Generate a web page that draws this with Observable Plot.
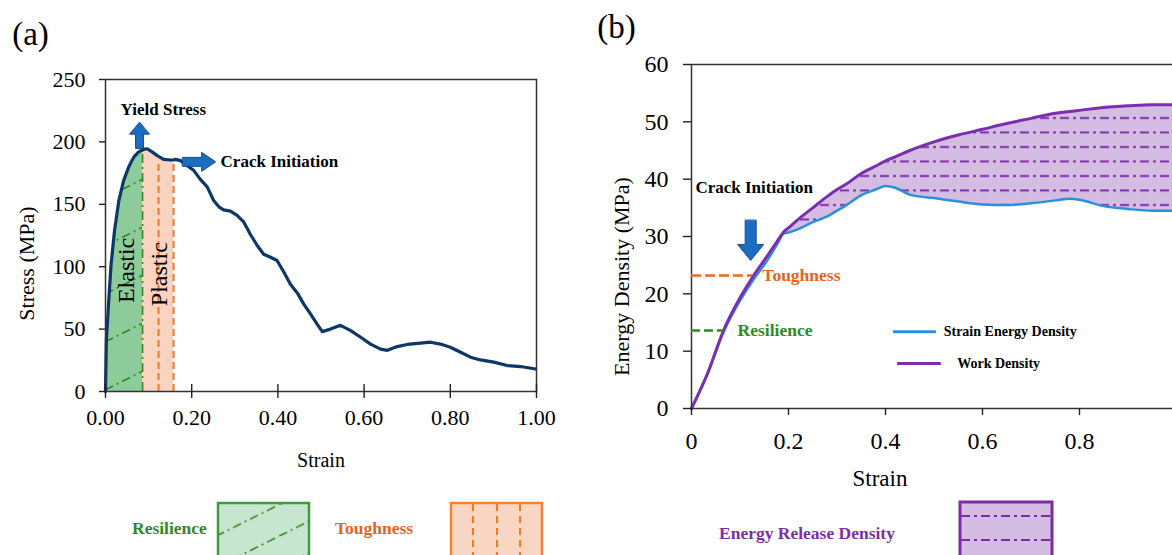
<!DOCTYPE html>
<html><head><meta charset="utf-8">
<script src="https://cdn.jsdelivr.net/npm/d3@7"></script>
<script src="https://cdn.jsdelivr.net/npm/@observablehq/plot@0.6"></script>
<style>
html,body{margin:0;padding:0;background:#fff;}
#wrap{position:relative;width:1172px;height:555px;overflow:hidden;font-family:"Liberation Serif",serif;background:#fff;}
#wrap > svg{position:absolute;}
.lg{position:absolute;font-weight:bold;font-size:17.5px;line-height:1;white-space:nowrap;}
</style></head><body>
<div id="wrap">
<svg width="0" height="0" style="left:0;top:0">
  <defs>
    <pattern id="elasticPat" patternUnits="userSpaceOnUse" x="105" y="342" width="96" height="48">
      <rect width="96" height="48" fill="#8ecb9a"/>
      <line x1="0" y1="48" x2="96" y2="0" stroke="#2e8b22" stroke-width="1.6" stroke-dasharray="9 4 2 4"/>
    </pattern>
    <pattern id="erdPat" patternUnits="userSpaceOnUse" x="0" y="111" width="20" height="14.5">
      <rect width="20" height="14.5" fill="#d5bce2"/>
      <line x1="0" y1="7" x2="20" y2="7" stroke="#7a2aa8" stroke-width="1.8" stroke-dasharray="9 4 3 4"/>
    </pattern>
  </defs>
</svg>

<div class="lg" style="left:132px;top:520px;color:#2f8a24">Resilience</div>
<svg style="left:216px;top:501px" width="95" height="60">
  <defs><pattern id="resPat" patternUnits="userSpaceOnUse" x="0" y="3.7" width="63" height="31.5">
    <rect width="63" height="31.5" fill="#c8e5cf"/>
    <line x1="0" y1="31.5" x2="63" y2="0" stroke="#2e8b22" stroke-width="1.6" stroke-dasharray="9 4 2 4"/>
  </pattern></defs>
  <rect x="2" y="2" width="91" height="70" fill="url(#resPat)" stroke="#3d9c3d" stroke-width="2.5"/>
</svg>

<div class="lg" style="left:335px;top:520px;color:#e9631b">Toughness</div>
<svg style="left:449px;top:501px" width="95" height="60">
  <rect x="2" y="2" width="91" height="70" fill="#f9d5c3" stroke="#f5822c" stroke-width="2.5"/>
  <line x1="24" y1="3" x2="24" y2="60" stroke="#f07a22" stroke-width="2" stroke-dasharray="7 5"/>
  <line x1="48" y1="3" x2="48" y2="60" stroke="#f07a22" stroke-width="2" stroke-dasharray="7 5"/>
  <line x1="71" y1="3" x2="71" y2="60" stroke="#f07a22" stroke-width="2" stroke-dasharray="7 5"/>
</svg>

<div class="lg" style="left:719px;top:525px;color:#7c2fa6">Energy Release Density</div>
<svg style="left:958px;top:500px" width="96" height="60">
  <rect x="2" y="2" width="92" height="70" fill="#d5bce2" stroke="#7a2aa3" stroke-width="3"/>
  <line x1="3" y1="16" x2="93" y2="16" stroke="#7a2aa8" stroke-width="2" stroke-dasharray="9 4 3 4"/>
  <line x1="3" y1="40" x2="93" y2="40" stroke="#7a2aa8" stroke-width="2" stroke-dasharray="9 4 3 4"/>
</svg>
</div>

<script>
// ---------- Panel (a) data: stress-strain ----------
const strainA = [0, 0.002, 0.008, 0.013, 0.021, 0.031, 0.042, 0.054, 0.066, 0.077, 0.086, 0.089, 0.097, 0.108, 0.12, 0.135, 0.151, 0.158, 0.162, 0.174, 0.19, 0.205, 0.22, 0.236, 0.251, 0.263, 0.274, 0.29, 0.306, 0.321, 0.336, 0.352, 0.367, 0.383, 0.398, 0.414, 0.429, 0.445, 0.46, 0.476, 0.491, 0.503, 0.522, 0.545, 0.568, 0.592, 0.615, 0.638, 0.654, 0.677, 0.7, 0.731, 0.754, 0.777, 0.8, 0.824, 0.847, 0.87, 0.901, 0.932, 0.963, 0.998];
const stressA = [0, 41, 75.6, 102, 129, 153, 169, 180, 188, 192, 193.5, 194, 194.5, 192, 189, 186, 185.5, 185.5, 186, 185, 181, 177, 170, 164, 153, 148, 145.5, 144.5, 141, 135.7, 126, 117, 110, 107.6, 105, 95.6, 86, 79, 70, 62, 54, 48, 50, 53, 49, 43.5, 38, 34, 33, 36, 37.7, 38.7, 39.5, 38, 35.5, 31.5, 27.5, 25.3, 23.5, 20.8, 20, 18];
const elasticEnd = 0.086;
const plasticEnd = 0.158;
const elasticBoundary = [{strain: 0.086, top: 190}];
const plasticLines = [{strain: 0.123, top: 182}, {strain: 0.158, top: 184}];
const xTicksA = [0, 0.2, 0.4, 0.6, 0.8, 1.0];
const yTicksA = [0, 50, 100, 150, 200, 250];
const textA = [{strain: 0.035, stress: 226, text: "Yield Stress"}, {strain: 0.267, stress: 184, text: "Crack Initiation"}];
const regionA = [{strain: 0.048, stress: 97, text: "Elastic"}, {strain: 0.124, stress: 94, text: "Plastic"}];
const arrowUpA = [{strain: 0.079, stress: 195}];
const arrowRightA = [{strain: 0.179, stress: 184}];

// ---------- Panel (b) data: energy densities ----------
const strainB = [0, 0.033, 0.066, 0.1, 0.128, 0.156, 0.177, 0.19, 0.2, 0.22, 0.25, 0.28, 0.3, 0.32, 0.35, 0.38, 0.4, 0.42, 0.45, 0.5, 0.55, 0.6, 0.65, 0.7, 0.75, 0.78, 0.8, 0.85, 0.9, 0.95, 1.0];
const workB = [0, 6.1, 13.6, 19.3, 23.2, 26.6, 29.2, 30.8, 31.5, 33, 35, 37, 38.2, 39.2, 41, 42.3, 43.2, 43.9, 45, 46.5, 47.7, 48.7, 49.7, 50.6, 51.5, 51.8, 52, 52.5, 52.8, 53, 53];
const sedB = [0, 6, 13.3, 18.8, 22.5, 25.8, 28.7, 30.5, 30.7, 31.3, 32.5, 33.5, 34.5, 35.5, 37.2, 38.2, 38.8, 38.5, 37.3, 36.7, 36.1, 35.6, 35.5, 35.8, 36.3, 36.6, 36.4, 35.3, 34.8, 34.5, 34.5];
const xTicksB = [0, 0.2, 0.4, 0.6, 0.8, 1];
const yTicksB = [0, 10, 20, 30, 40, 50, 60];
const toughnessB = [{energy: 23.2, end: 0.126, labelX: 0.146}];
const resilienceB = [{energy: 13.6, end: 0.066, labelX: 0.095}];
const crackB = [{strain: 0.008, energy: 38.5, text: "Crack Initiation"}];
const arrowDownB = [{strain: 0.122, energy: 32.8}];
const legendB = [
  {energy: 13.4, x1: 0.4165, x2: 0.505, textX: 0.52, text: "Strain Energy Density"},
  {energy: 7.85, x1: 0.425, x2: 0.515, textX: 0.548, text: "Work Density"}
];

const dataA = strainA.map((s, i) => ({strain: s, stress: stressA[i]}));
const elastic = dataA.filter(d => d.strain <= elasticEnd);
const plastic = dataA.filter(d => d.strain >= elasticEnd && d.strain <= plasticEnd);
const dataB = strainB.map((s, i) => ({strain: s, wd: workB[i], sed: sedB[i]}));

const serif = '"Liberation Serif", "Times New Roman", serif';
const arrowFill = "#1c6dc1", arrowStroke = "#164e8a";
function blockArrow(shaft, head, headLen) {
  return {
    draw(ctx, l) {
      const s = shaft / 2, h = head / 2, b = l - headLen;
      ctx.moveTo(-s, 0); ctx.lineTo(-s, -b); ctx.lineTo(-h, -b); ctx.lineTo(0, -l);
      ctx.lineTo(h, -b); ctx.lineTo(s, -b); ctx.lineTo(s, 0); ctx.closePath();
    }
  };
}
const title = (s, o) => Plot.text([s], {text: d => d, textAnchor: "middle", lineAnchor: "middle", ...o});

const plotA = Plot.plot({
  width: 560, height: 490,
  marginLeft: 105, marginRight: 24, marginTop: 79, marginBottom: 99,
  style: {fontFamily: serif, background: "transparent", color: "#000", overflow: "visible"},
  x: {domain: [0, 1]},
  y: {domain: [0, 250]},
  marks: [
    Plot.areaY(elastic, {x: "strain", y: "stress", fill: "url(#elasticPat)"}),
    Plot.areaY(plastic, {x: "strain", y: "stress", fill: "#fad4c0"}),
    Plot.ruleX(elasticBoundary, {x: "strain", y1: 0, y2: "top", stroke: "#2e8b22", strokeWidth: 1.6, strokeDasharray: "9 4 2 4"}),
    Plot.ruleX(plasticLines, {x: "strain", y1: 0, y2: "top", stroke: "#f47a20", strokeWidth: 2, strokeDasharray: "7 4"}),
    Plot.line(dataA, {x: "strain", y: "stress", stroke: "#0c3767", strokeWidth: 3.2, strokeLinejoin: "round"}),
    Plot.frame({stroke: "#333", strokeWidth: 1.5}),
    Plot.axisX({ticks: xTicksA, tickFormat: d3.format(".2f"), tickSize: 7, tickPadding: 11, fontSize: 22, label: null, stroke: "#222", strokeWidth: 1.4}),
    Plot.tickX(xTicksA, {x: d => d, insetTop: 305, stroke: "#222", strokeWidth: 1.4}),
    Plot.axisY({ticks: yTicksA, tickSize: 6, tickPadding: 14, fontSize: 22, label: null, stroke: "#222", strokeWidth: 1.4}),
    title("Strain", {frameAnchor: "bottom", dy: 69, fontSize: 20}),
    title("Stress (MPa)", {frameAnchor: "left", dx: -79, dy: 28, rotate: -90, fontSize: 22}),
    title("(a)", {frameAnchor: "top-left", dx: -75, dy: -45, fontSize: 33}),
    Plot.text(textA, {x: "strain", y: "stress", text: "text", textAnchor: "start", fontWeight: "bold", fontSize: 17}),
    Plot.text(regionA, {x: "strain", y: "stress", text: "text", rotate: -90, fontSize: 24}),
    Plot.vector(arrowUpA, {x: "strain", y: "stress", rotate: 0, length: 26, anchor: "start", shape: blockArrow(8, 20, 12), fill: arrowFill, stroke: arrowStroke, strokeWidth: 1}),
    Plot.vector(arrowRightA, {x: "strain", y: "stress", rotate: 90, length: 33, anchor: "start", shape: blockArrow(9, 19, 14), fill: arrowFill, stroke: arrowStroke, strokeWidth: 1})
  ]
});
plotA.style.position = "absolute"; plotA.style.left = "0px"; plotA.style.top = "0px";

const plotB = Plot.plot({
  width: 620, height: 490,
  marginLeft: 131, marginRight: 4, marginTop: 64, marginBottom: 82,
  style: {fontFamily: serif, background: "transparent", color: "#000", overflow: "visible"},
  x: {domain: [0, 1]},
  y: {domain: [0, 60]},
  marks: [
    Plot.areaY(dataB, {x: "strain", y1: "sed", y2: "wd", fill: "url(#erdPat)", curve: "monotone-x"}),
    Plot.line(dataB, {x: "strain", y: "sed", stroke: "#2a8fdc", strokeWidth: 2.5, curve: "monotone-x"}),
    Plot.line(dataB, {x: "strain", y: "wd", stroke: "#7b2fae", strokeWidth: 3, curve: "monotone-x"}),
    Plot.frame({stroke: "#333", strokeWidth: 1.5}),
    Plot.axisX({ticks: xTicksB, tickFormat: d => String(d), tickSize: 7, tickPadding: 16, fontSize: 24, label: null, stroke: "#222", strokeWidth: 1.4}),
    Plot.axisY({ticks: yTicksB, tickSize: 8, tickPadding: 15, fontSize: 24, label: null, stroke: "#222", strokeWidth: 1.4}),
    title("Strain", {frameAnchor: "bottom", dx: -54, dy: 70, fontSize: 23}),
    title("Energy Density (MPa)", {frameAnchor: "left", dx: -70, dy: 40, rotate: -90, fontSize: 22}),
    title("(b)", {frameAnchor: "top-left", dx: -75, dy: -37, fontSize: 33}),
    Plot.ruleY(toughnessB, {y: "energy", x1: 0, x2: "end", stroke: "#ec6a1c", strokeWidth: 2.5, strokeDasharray: "10 4"}),
    Plot.text(toughnessB, {x: "labelX", y: "energy", text: () => "Toughness", textAnchor: "start", fontWeight: "bold", fontSize: 17.5, fill: "#e9631b"}),
    Plot.ruleY(resilienceB, {y: "energy", x1: 0, x2: "end", stroke: "#2f8a24", strokeWidth: 2.5, strokeDasharray: "9 4"}),
    Plot.text(resilienceB, {x: "labelX", y: "energy", text: () => "Resilience", textAnchor: "start", fontWeight: "bold", fontSize: 17.5, fill: "#2f8a24"}),
    Plot.text(crackB, {x: "strain", y: "energy", text: "text", textAnchor: "start", fontWeight: "bold", fontSize: 17}),
    Plot.vector(arrowDownB, {x: "strain", y: "energy", rotate: 180, length: 40, anchor: "start", shape: blockArrow(11, 26, 16), fill: arrowFill, stroke: arrowStroke, strokeWidth: 1}),
    Plot.ruleY(legendB.slice(0, 1), {y: "energy", x1: "x1", x2: "x2", stroke: "#2a8fdc", strokeWidth: 3}),
    Plot.ruleY(legendB.slice(1, 2), {y: "energy", x1: "x1", x2: "x2", stroke: "#7b2fae", strokeWidth: 3}),
    Plot.text(legendB, {x: "textX", y: "energy", text: "text", textAnchor: "start", fontWeight: "bold", fontSize: 14})
  ]
});
plotB.style.position = "absolute"; plotB.style.left = "560px"; plotB.style.top = "0px";

const wrap = document.getElementById("wrap");
wrap.appendChild(plotA);
wrap.appendChild(plotB);
</script>
</body></html>
